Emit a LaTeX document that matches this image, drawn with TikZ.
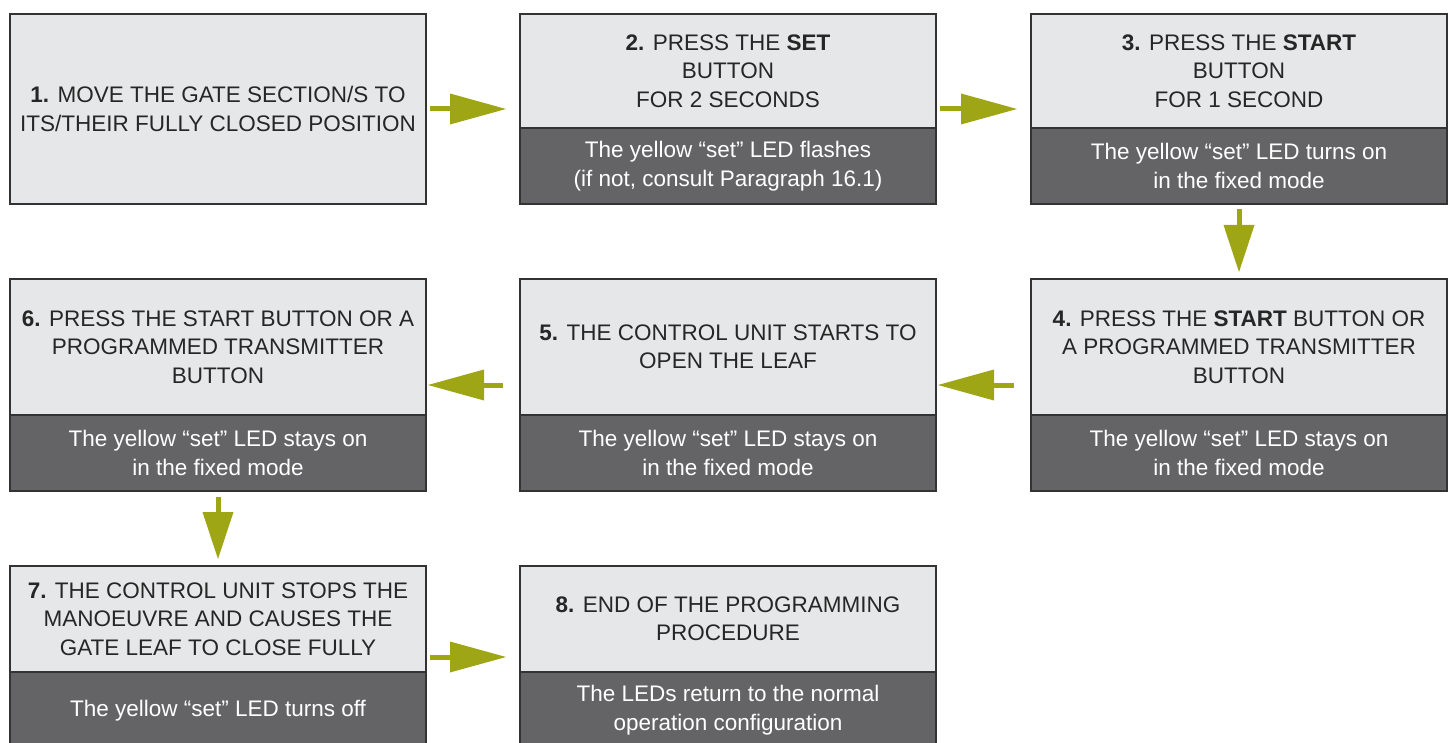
\documentclass[tikz,border=0pt]{standalone}
\usepackage{fontspec}
\setmainfont{Liberation Sans}
\usetikzlibrary{arrows.meta}
\definecolor{lightbox}{HTML}{E6E7E8}
\definecolor{darkbox}{HTML}{646466}
\definecolor{frame}{HTML}{333333}
\definecolor{olive}{HTML}{9EA616}
\begin{document}
\begin{tikzpicture}[x=1pt,y=-1pt,
  font=\fontsize{22.5}{28.5}\selectfont,
  darkpart/.style={draw=frame, fill=darkbox, line width=2.5pt, minimum width=416pt, inner sep=0pt, outer sep=0pt, anchor=north west},
  lightpart/.style={draw=frame, fill=lightbox, line width=2.5pt, minimum width=416pt, inner sep=0pt, outer sep=0pt, anchor=north west, align=center, text=black!85},
  dtext/.style={text=white, align=center, inner sep=0pt},
  hflow/.style={draw=olive, line width=5pt, -{Triangle[length=56pt,width=31pt,line width=0pt]}},
  vflow/.style={draw=olive, line width=5pt, -{Triangle[length=47pt,width=31pt,line width=0pt]}}
]
\useasboundingbox (0,0) rectangle (1448,743);
% Box 1
\node[lightpart, minimum height=190pt] (b1) at (10,14) {\textbf{1.} MOVE THE GATE SECTION/S TO\\ITS/THEIR FULLY CLOSED POSITION};
% Box 2
\node[darkpart, minimum height=190pt] (b2) at (520,14) {};
\node[lightpart, minimum height=114pt] (b2t) at (520,14) {\textbf{2.} PRESS THE \textbf{SET}\\BUTTON\\FOR 2 SECONDS};
\node[dtext] (b2b) at (728,166) {The yellow “set” LED flashes\\(if not, consult Paragraph 16.1)};
% Box 3
\node[darkpart, minimum height=190pt] (b3) at (1031,14) {};
\node[lightpart, minimum height=114pt] (b3t) at (1031,14) {\textbf{3.} PRESS THE \textbf{START}\\BUTTON\\FOR 1 SECOND};
\node[dtext] (b3b) at (1239,166) {The yellow “set” LED turns on\\in the fixed mode};
% Box 4
\node[darkpart, minimum height=212pt] (b4) at (1031,279) {};
\node[lightpart, minimum height=136pt] (b4t) at (1031,279) {\textbf{4.} PRESS THE \textbf{START} BUTTON OR\\A PROGRAMMED TRANSMITTER\\BUTTON};
\node[dtext] (b4b) at (1239,453) {The yellow “set” LED stays on\\in the fixed mode};
% Box 5
\node[darkpart, minimum height=212pt] (b5) at (520,279) {};
\node[lightpart, minimum height=136pt] (b5t) at (520,279) {\textbf{5.} THE CONTROL UNIT STARTS TO\\OPEN THE LEAF};
\node[dtext] (b5b) at (728,453) {The yellow “set” LED stays on\\in the fixed mode};
% Box 6
\node[darkpart, minimum height=212pt] (b6) at (10,279) {};
\node[lightpart, minimum height=136pt] (b6t) at (10,279) {\textbf{6.} PRESS THE START BUTTON OR A\\PROGRAMMED TRANSMITTER\\BUTTON};
\node[dtext] (b6b) at (218,453) {The yellow “set” LED stays on\\in the fixed mode};
% Box 7
\node[darkpart, minimum height=182pt] (b7) at (10,566) {};
\node[lightpart, minimum height=106pt] (b7t) at (10,566) {\textbf{7.} THE CONTROL UNIT STOPS THE\\MANOEUVRE AND CAUSES THE\\GATE LEAF TO CLOSE FULLY};
\node[dtext] (b7b) at (218,711) {The yellow “set” LED turns off};
% Box 8
\node[darkpart, minimum height=182pt] (b8) at (520,566) {};
\node[lightpart, minimum height=106pt] (b8t) at (520,566) {\textbf{8.} END OF THE PROGRAMMING\\PROCEDURE};
\node[dtext] (b8b) at (728,710) {The LEDs return to the normal\\operation configuration};
% Arrows
\draw[hflow, shorten <=4pt, shorten >=14pt] (b1.east) -- (b1.east -| b2.west);
\draw[hflow, shorten <=4pt, shorten >=14pt] (b2.east) -- (b3.west);
\draw[vflow, shorten <=5pt, shorten >=7pt] (b3.south) -- (b4.north);
\draw[hflow, shorten <=17pt, shorten >=2pt] (b4.west) -- (b5.east);
\draw[hflow, shorten <=17pt, shorten >=2pt] (b5.west) -- (b6.east);
\draw[vflow, shorten <=6pt, shorten >=7pt] (b6.south) -- (b7.north);
\draw[hflow, shorten <=4pt, shorten >=14pt] (b7.east) -- (b8.west);
\end{tikzpicture}
\end{document}
